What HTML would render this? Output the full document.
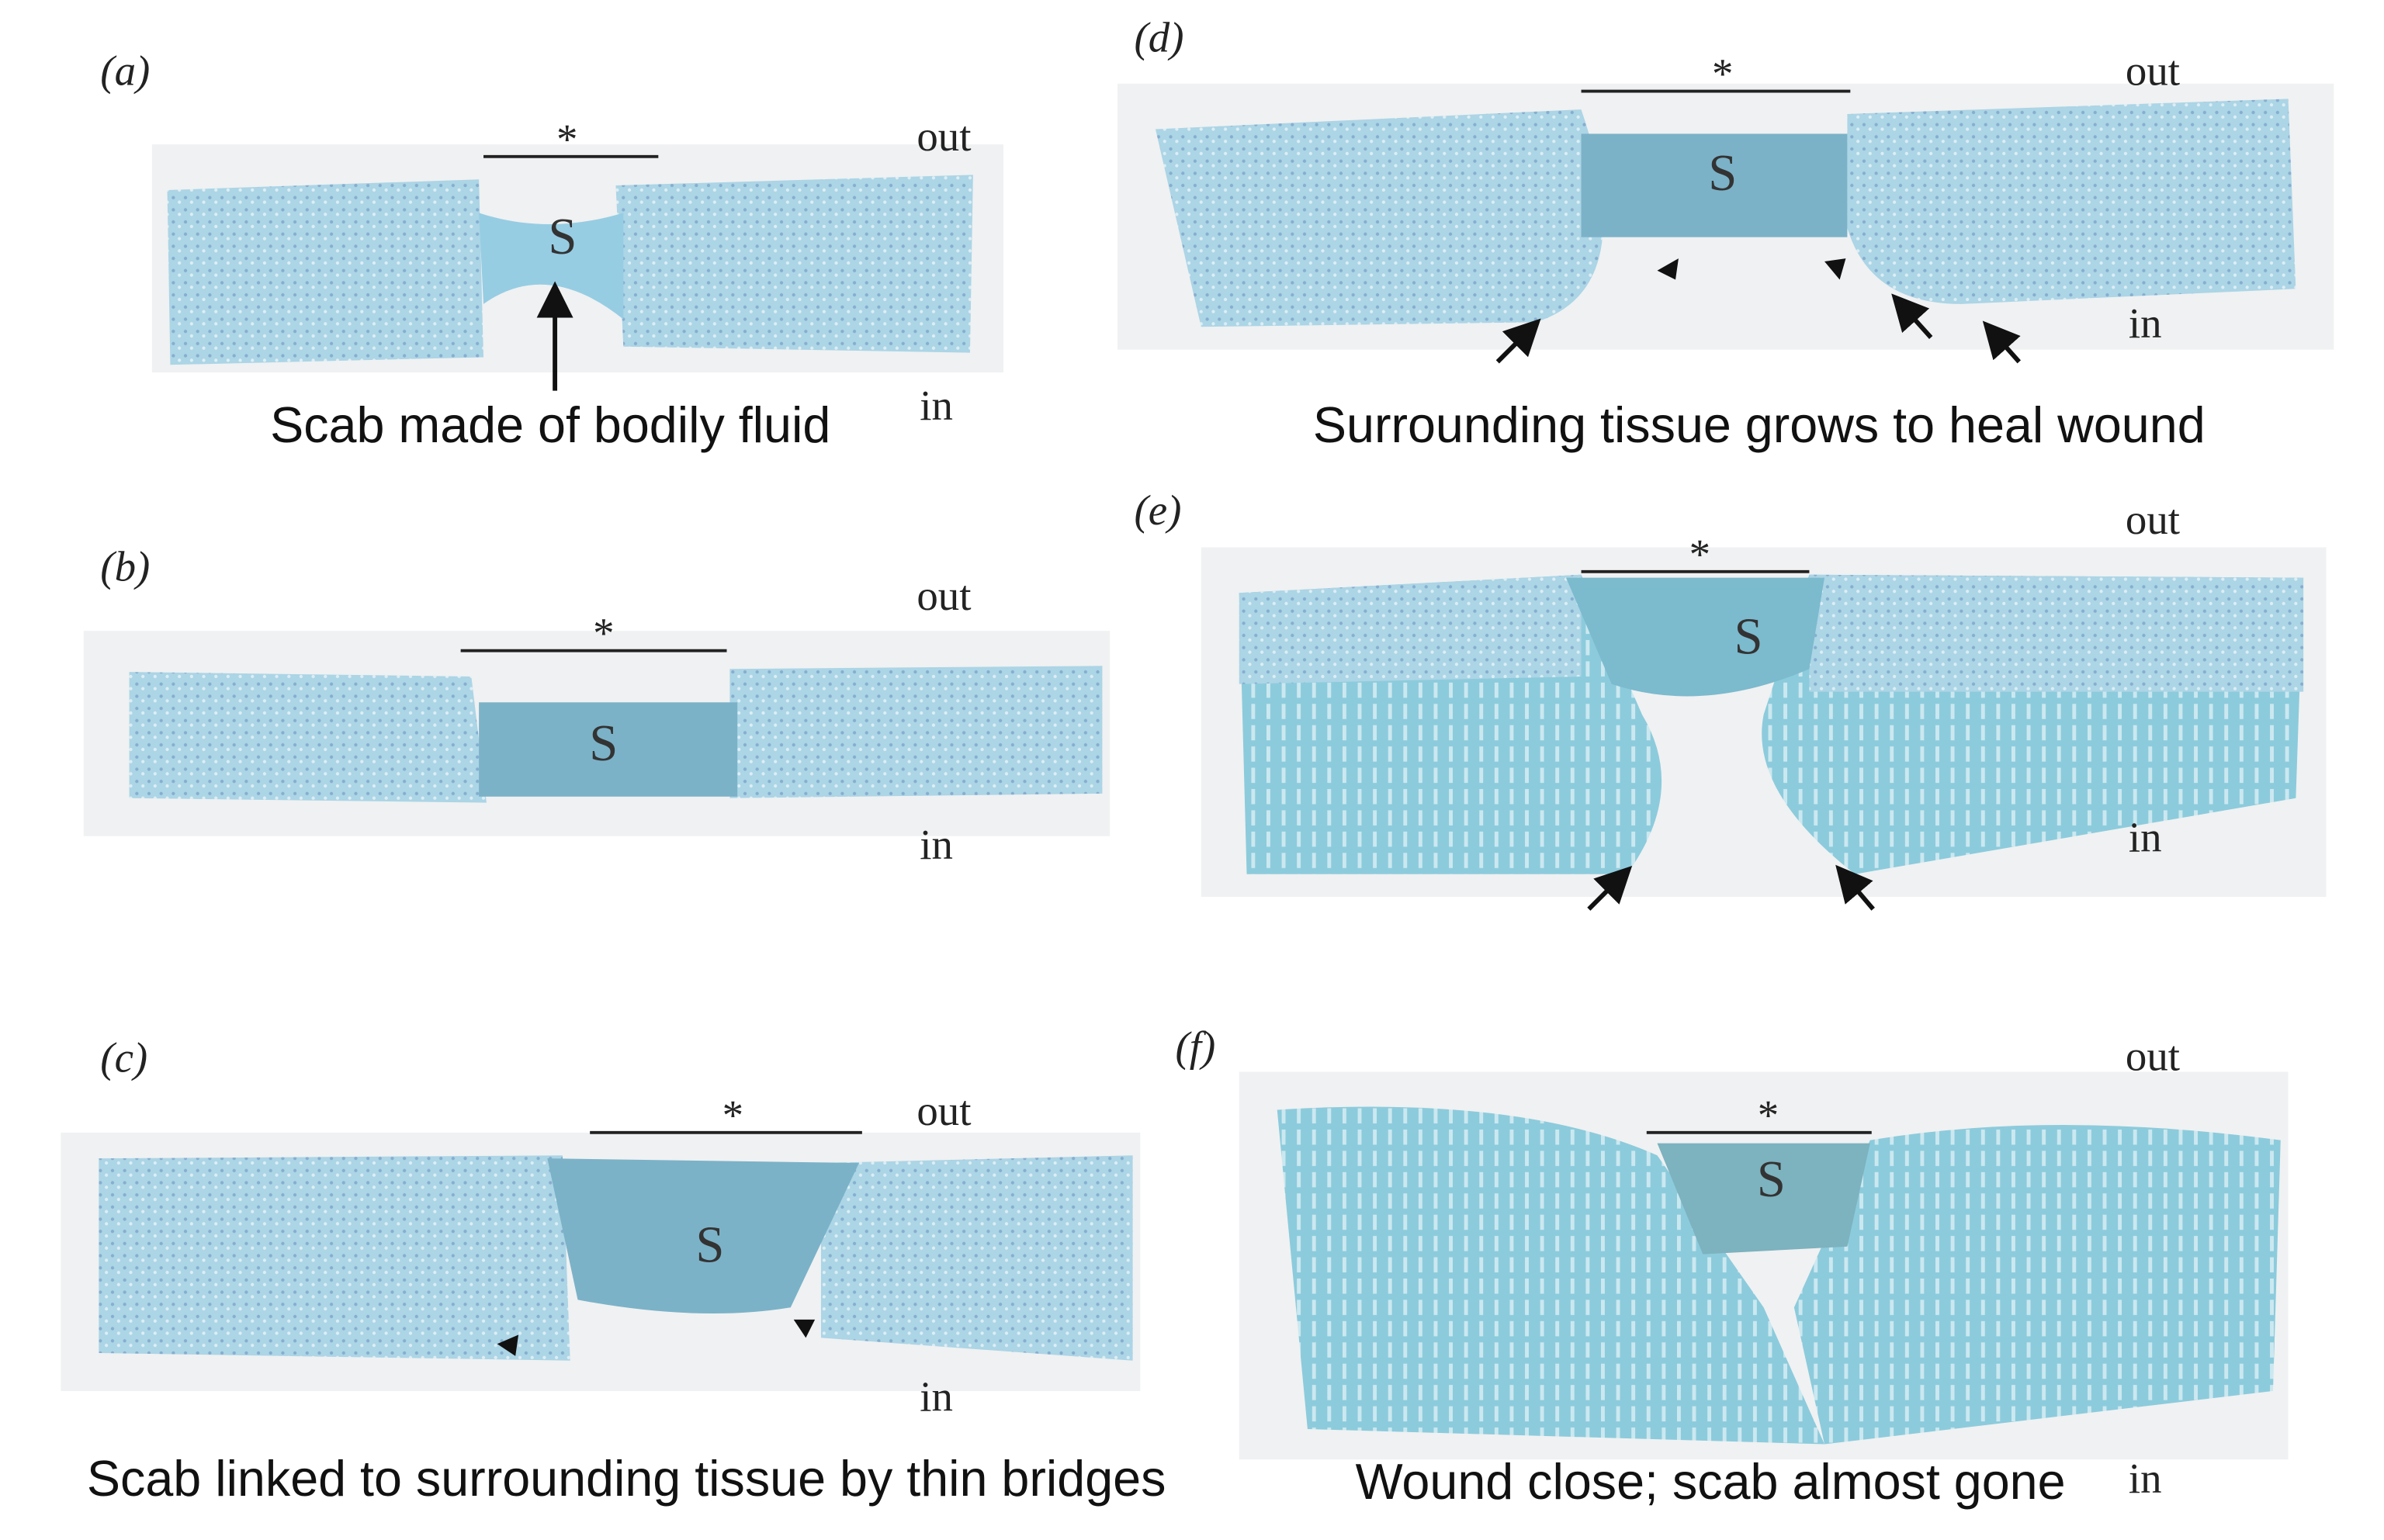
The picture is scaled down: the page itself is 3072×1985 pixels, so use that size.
<!DOCTYPE html>
<html><head><meta charset="utf-8"><style>
html,body{margin:0;padding:0;background:#fff;}
svg{display:block;}
text{font-family:"Liberation Serif",serif;fill:#222;}
.cap{font-family:"Liberation Sans",sans-serif;font-size:33px;text-anchor:middle;fill:#111;}
.lab{font-style:italic;font-size:28px;}
.io{font-size:28px;}
.S{font-size:34px;text-anchor:middle;fill:#333;}
.st{font-size:28px;text-anchor:middle;}
</style></head><body>
<svg width="3072" height="1985" viewBox="0 0 1568 1013" preserveAspectRatio="none" xmlns="http://www.w3.org/2000/svg">
<defs>
<pattern id="tx" width="8" height="8" patternUnits="userSpaceOnUse">
<rect width="8" height="8" fill="#acd5e6"/>
<circle cx="2" cy="2" r="1.1" fill="#86aed0"/>
<circle cx="6" cy="5" r="1.1" fill="#dcEEf5"/>
</pattern>
<pattern id="tx2" width="10" height="14" patternUnits="userSpaceOnUse">
<rect width="10" height="14" fill="#8ccbdc"/>
<rect x="3" y="1" width="2.5" height="10" fill="#cbe8f0"/>
</pattern>
<marker id="ah" markerWidth="8" markerHeight="8" refX="4" refY="4" orient="auto"><path d="M0,0 L8,4 L0,8 z" fill="#111"/></marker>
</defs>
<g fill="#f0f1f2">
<rect x="100" y="95" width="560" height="150"/>
<rect x="55" y="415" width="675" height="135"/>
<rect x="40" y="745" width="710" height="170"/>
<rect x="735" y="55" width="800" height="175"/>
<rect x="790" y="360" width="740" height="230"/>
<rect x="815" y="705" width="690" height="255"/>
</g>
<!-- (a) -->
<path d="M110,125 L315,118 L318,235 L112,240 z" fill="url(#tx)"/>
<path d="M405,122 L640,115 L638,232 L410,228 z" fill="url(#tx)"/>
<path d="M315,140 Q360,155 410,140 L410,210 Q360,170 318,200 z" fill="#96cde3"/>
<!-- (b) -->
<path d="M85,442 L310,445 L320,528 L85,525 z" fill="url(#tx)"/>
<path d="M480,440 L725,438 L725,522 L480,525 z" fill="url(#tx)"/>
<rect x="315" y="462" width="170" height="62" fill="#7bb2c8"/>
<!-- (c) -->
<path d="M65,762 L370,760 L375,895 L65,890 z" fill="url(#tx)"/>
<path d="M540,765 L745,760 L745,895 L540,880 z" fill="url(#tx)"/>
<path d="M360,762 L565,765 L520,860 Q460,870 380,855 z" fill="#7bb2c8"/>
<!-- (d) -->
<path d="M760,85 L1040,72 Q1080,190 1010,212 L790,215 z" fill="url(#tx)"/>
<path d="M1215,75 L1505,65 L1510,190 L1290,200 Q1230,200 1215,150 z" fill="url(#tx)"/>
<rect x="1040" y="88" width="175" height="68" fill="#7bb2c8"/>
<!-- (e) -->
<path d="M815,390 L1040,378 L1080,470 Q1110,520 1070,575 L820,575 z" fill="url(#tx2)"/>
<path d="M1190,378 L1515,380 L1510,525 L1220,575 Q1150,520 1160,470 z" fill="url(#tx2)"/>
<path d="M815,390 L1040,378 L1040,445 L815,450 z" fill="url(#tx)"/>
<path d="M1190,378 L1515,380 L1515,455 L1190,455 z" fill="url(#tx)"/>
<path d="M1030,380 L1200,380 L1190,440 Q1120,470 1060,450 z" fill="#7cbace"/>
<!-- (f) -->
<path d="M840,730 Q1000,720 1090,760 L1160,860 L1200,950 L860,940 z" fill="url(#tx2)"/>
<path d="M1230,750 Q1350,730 1500,750 L1495,915 L1200,950 L1180,860 z" fill="url(#tx2)"/>
<path d="M1090,752 L1230,752 L1215,820 L1120,825 z" fill="#7db2bf"/>
<g stroke="#222" stroke-width="2">
<line x1="318" y1="103" x2="433" y2="103"/>
<line x1="303" y1="428" x2="478" y2="428"/>
<line x1="388" y1="745" x2="567" y2="745"/>
<line x1="1040" y1="60" x2="1217" y2="60"/>
<line x1="1040" y1="376" x2="1190" y2="376"/>
<line x1="1083" y1="745" x2="1231" y2="745"/>
</g>
<text class="st" x="373" y="101">*</text>
<text class="st" x="397" y="426">*</text>
<text class="st" x="482" y="743">*</text>
<text class="st" x="1133" y="58">*</text>
<text class="st" x="1118" y="374">*</text>
<text class="st" x="1163" y="743">*</text>
<text class="S" x="370" y="167">S</text>
<text class="S" x="397" y="500">S</text>
<text class="S" x="467" y="830">S</text>
<text class="S" x="1133" y="125">S</text>
<text class="S" x="1150" y="430">S</text>
<text class="S" x="1165" y="787">S</text>
<text class="lab" x="66" y="56">(a)</text>
<text class="lab" x="66" y="382">(b)</text>
<text class="lab" x="66" y="705">(c)</text>
<text class="lab" x="746" y="34">(d)</text>
<text class="lab" x="746" y="345">(e)</text>
<text class="lab" x="773" y="698">(f)</text>
<g class="io">
<text x="603" y="99">out</text><text x="605" y="276">in</text>
<text x="603" y="401">out</text><text x="605" y="565">in</text>
<text x="603" y="740">out</text><text x="605" y="928">in</text>
<text x="1398" y="56">out</text><text x="1400" y="222">in</text>
<text x="1398" y="351">out</text><text x="1400" y="560">in</text>
<text x="1398" y="704">out</text><text x="1400" y="982">in</text>
</g>
<g stroke="#111" stroke-width="3" marker-end="url(#ah)">
<line x1="365" y1="257" x2="365" y2="197"/>
<line x1="985" y1="238" x2="1005" y2="218"/>
<line x1="1270" y1="222" x2="1252" y2="202"/>
<line x1="1328" y1="238" x2="1312" y2="220"/>
<line x1="1045" y1="598" x2="1065" y2="578"/>
<line x1="1232" y1="598" x2="1215" y2="578"/>
</g>
<g fill="#111">
<path d="M1090,178 l14,-8 l-2,14 z"/>
<path d="M1214,170 l-14,2 l10,12 z"/>
<path d="M327,884 l14,-6 l-2,14 z"/>
<path d="M536,868 l-14,0 l8,12 z"/>
</g>
<text class="cap" x="362" y="291">Scab made of bodily fluid</text>
<text class="cap" x="1157" y="291">Surrounding tissue grows to heal wound</text>
<text class="cap" x="412" y="984">Scab linked to surrounding tissue by thin bridges</text>
<text class="cap" x="1125" y="986">Wound close; scab almost gone</text>
</svg>
</body></html>
